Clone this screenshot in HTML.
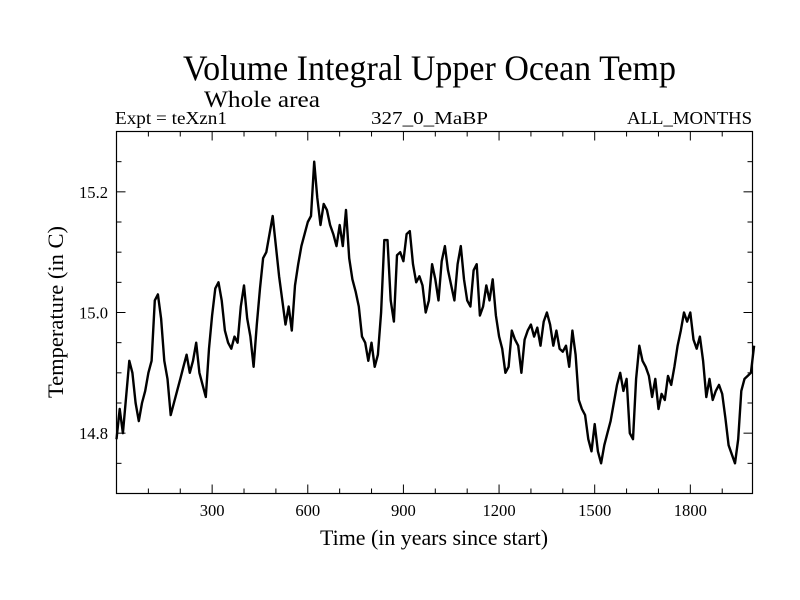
<!DOCTYPE html>
<html><head><meta charset="utf-8"><style>
html,body{margin:0;padding:0;background:#fff;}
svg{display:block;font-family:"Liberation Serif",serif;}
</style></head><body>
<svg id="chart" width="800" height="600" viewBox="0 0 800 600">
<text x="183" y="80" font-size="36" textLength="493" lengthAdjust="spacingAndGlyphs">Volume Integral Upper Ocean Temp</text>
<text x="204" y="107" font-size="23" textLength="116" lengthAdjust="spacingAndGlyphs">Whole area</text>
<text x="115" y="124" font-size="18" textLength="112" lengthAdjust="spacingAndGlyphs">Expt = teXzn1</text>
<text x="371" y="124" font-size="18" textLength="117" lengthAdjust="spacingAndGlyphs">327_0_MaBP</text>
<text x="627" y="124" font-size="18" textLength="125" lengthAdjust="spacingAndGlyphs">ALL_MONTHS</text>
<text x="434" y="545" font-size="22" text-anchor="middle" textLength="228" lengthAdjust="spacingAndGlyphs">Time (in years since start)</text>
<text transform="translate(63,312) rotate(-90)" font-size="22" text-anchor="middle" textLength="172" lengthAdjust="spacingAndGlyphs">Temperature (in C)</text>
<g id="ticks"></g>
<path id="series" fill="none" stroke="#000" stroke-width="2.4" stroke-linejoin="round"></path>
<rect x="116.5" y="131.5" width="636" height="362" fill="none" stroke="#000" stroke-width="1.2"></rect>
</svg>
<script>
const yearStart = 0;
const yearStep = 10;
const temps = [14.79,14.84,14.80,14.86,14.92,14.90,14.85,14.82,14.85,14.87,14.90,14.92,15.02,15.03,14.99,14.92,14.89,14.83,14.85,14.87,
14.89,14.91,14.93,14.90,14.92,14.95,14.90,14.88,14.86,14.94,14.995,15.04,15.05,15.02,14.97,14.95,14.94,14.96,14.95,15.01,
15.045,14.99,14.96,14.91,14.98,15.04,15.09,15.10,15.13,15.16,15.11,15.06,15.02,14.98,15.01,14.97,15.045,15.08,15.11,15.13,
15.15,15.16,15.25,15.19,15.145,15.18,15.17,15.145,15.13,15.11,15.145,15.11,15.17,15.09,15.055,15.035,15.01,14.96,14.95,14.92,
14.95,14.91,14.93,15.0,15.12,15.12,15.02,14.985,15.095,15.10,15.085,15.13,15.135,15.08,15.05,15.06,15.045,15.0,15.02,15.08,
15.055,15.02,15.085,15.11,15.07,15.045,15.02,15.08,15.11,15.055,15.02,15.01,15.07,15.08,14.995,15.01,15.045,15.02,15.055,14.995,
14.96,14.94,14.90,14.91,14.97,14.955,14.945,14.90,14.955,14.97,14.98,14.96,14.975,14.945,14.985,15.0,14.98,14.945,14.97,14.94,
14.935,14.945,14.91,14.97,14.93,14.855,14.84,14.83,14.79,14.77,14.815,14.77,14.75,14.78,14.80,14.82,14.85,14.88,14.90,14.87,
14.89,14.80,14.79,14.89,14.945,14.92,14.91,14.895,14.86,14.89,14.84,14.865,14.855,14.895,14.88,14.91,14.945,14.97,15.0,14.985,
15.0,14.955,14.94,14.96,14.92,14.86,14.89,14.855,14.87,14.88,14.865,14.825,14.78,14.765,14.75,14.79,14.87,14.89,14.895,14.90,14.945];
const xTicks = [300,600,900,1200,1500,1800];
const yTicks = [14.8,15.0,15.2];

const X0=116.5,X1=752.5,Y0=493.5,Y1=131.5;
const xMin=0,xMax=1995,yMin=14.7,yMax=15.3;
function sx(v){return X0+(v-xMin)/(xMax-xMin)*(X1-X0);}
function sy(v){return Y0-(v-yMin)/(yMax-yMin)*(Y0-Y1);}
const NS="http://www.w3.org/2000/svg";
let d="";
temps.forEach((t,i)=>{d+=(i?"L":"M")+sx(yearStart+i*yearStep).toFixed(1)+","+sy(t).toFixed(1);});
document.getElementById("series").setAttribute("d",d);
const g=document.getElementById("ticks");
function line(x1,y1,x2,y2){const l=document.createElementNS(NS,"line");l.setAttribute("x1",x1);l.setAttribute("y1",y1);l.setAttribute("x2",x2);l.setAttribute("y2",y2);l.setAttribute("stroke","#000");l.setAttribute("stroke-width","1");


g.appendChild(l);}
for(let v=100;v<xMax;v+=100){const x=sx(v);const L=(v%300===0)?9:5;line(x,Y0,x,Y0-L);line(x,Y1,x,Y1+L);}
for(let v=14.75;v<15.3;v+=0.05){const y=sy(v);const maj=Math.abs(v*10-Math.round(v*10))<1e-6&&Math.round(v*10)%2===0;const L=maj?9:5;line(X0,y,X0+L,y);line(X1,y,X1-L,y);}
xTicks.forEach(v=>{const t=document.createElementNS(NS,"text");const s=String(v);t.setAttribute("x",sx(v));t.setAttribute("y",516);t.setAttribute("font-size","17");t.setAttribute("text-anchor","middle");t.setAttribute("textLength",(8.3*s.length).toFixed(1));t.setAttribute("lengthAdjust","spacingAndGlyphs");t.textContent=s;


g.appendChild(t);});
yTicks.forEach(v=>{const t=document.createElementNS(NS,"text");t.setAttribute("x",108);t.setAttribute("y",sy(v)+6);t.setAttribute("font-size","17");t.setAttribute("text-anchor","end");t.setAttribute("textLength","29");t.setAttribute("lengthAdjust","spacingAndGlyphs");t.textContent=v.toFixed(1);


g.appendChild(t);});
</script>
</body></html>
